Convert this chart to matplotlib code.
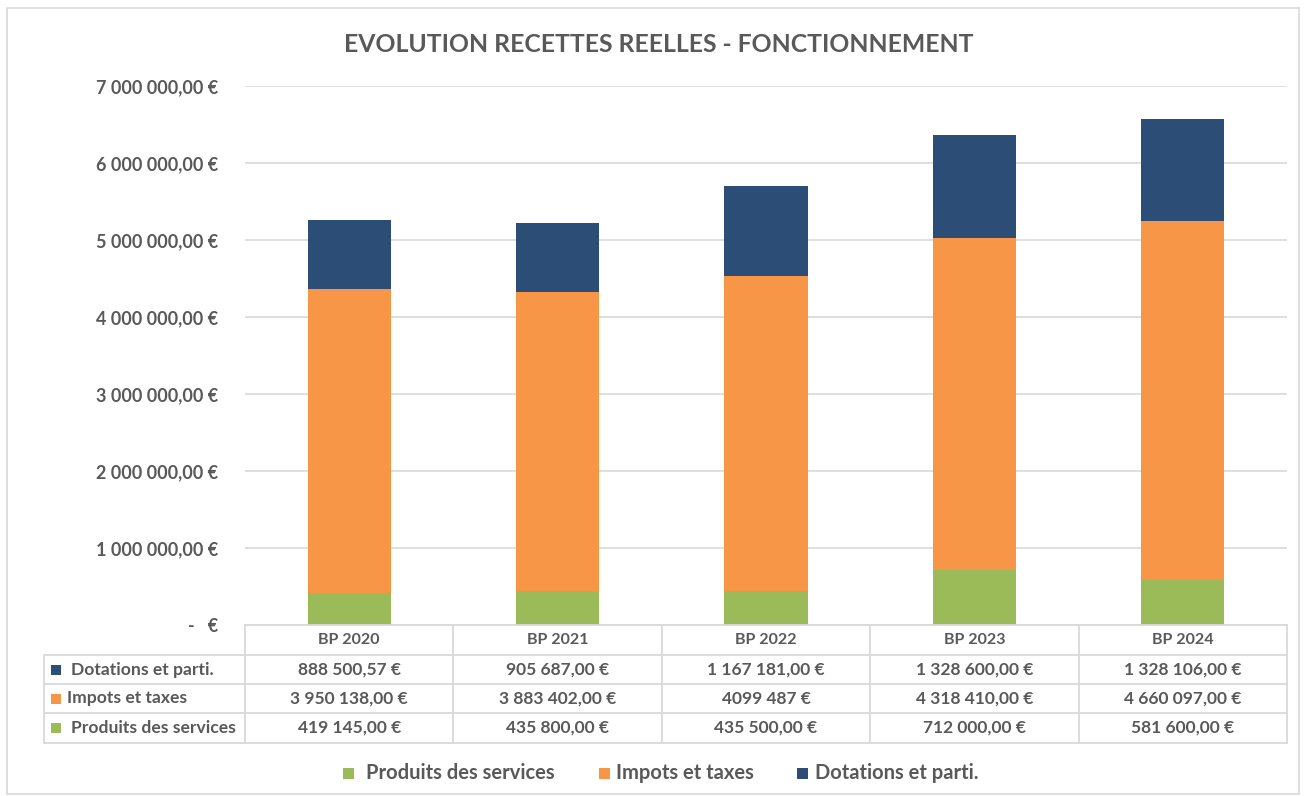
import matplotlib
matplotlib.use("Agg")
import matplotlib.pyplot as plt
from matplotlib.patches import Rectangle
from matplotlib.lines import Line2D

categories = ["BP 2020", "BP 2021", "BP 2022", "BP 2023", "BP 2024"]
produits = [419145.00, 435800.00, 435500.00, 712000.00, 581600.00]
impots = [3950138.00, 3883402.00, 4099487.00, 4318410.00, 4660097.00]
dotations = [888500.57, 905687.00, 1167181.00, 1328600.00, 1328106.00]
series_names = ["Produits des services", "Impots et taxes", "Dotations et parti."]
table_dotations = ["888 500,57 €", "905 687,00 €", "1 167 181,00 €", "1 328 600,00 €", "1 328 106,00 €"]
table_impots = ["3 950 138,00 €", "3 883 402,00 €", "4099 487 €", "4 318 410,00 €", "4 660 097,00 €"]
table_produits = ["419 145,00 €", "435 800,00 €", "435 500,00 €", "712 000,00 €", "581 600,00 €"]
y_ticks = [0, 1e6, 2e6, 3e6, 4e6, 5e6, 6e6, 7e6]
y_ticklabels = ["-   €", "1 000 000,00 €", "2 000 000,00 €", "3 000 000,00 €", "4 000 000,00 €",
                "5 000 000,00 €", "6 000 000,00 €", "7 000 000,00 €"]

C_GREEN = "#9BBB59"
C_ORANGE = "#F79646"
C_BLUE = "#2C4D75"
C_TEXT = "#595959"
C_GRID = "#D9D9D9"
FONT = "Lato"

W, H = 1306, 796
fig = plt.figure(figsize=(W / 100, H / 100), dpi=100)
fig.patch.set_facecolor("white")

def fx(px):
    return px / W

def fy(py):
    return 1 - py / H

# outer frame
fig.add_artist(Rectangle((fx(7), fy(794)), fx(1299) - fx(7), fy(8) - fy(794),
                         transform=fig.transFigure, fill=False, edgecolor=C_GRID, lw=1.2))

L, R, T, B = 245, 1287, 86, 625
ax = fig.add_axes([fx(L), fy(B), fx(R) - fx(L), fy(T) - fy(B)])
x = list(range(len(categories)))
bw = 0.40
ax.bar(x, produits, bw, color=C_GREEN, zorder=3)
bot2 = produits
ax.bar(x, impots, bw, bottom=bot2, color=C_ORANGE, zorder=3)
bot3 = [a + b for a, b in zip(produits, impots)]
ax.bar(x, dotations, bw, bottom=bot3, color=C_BLUE, zorder=3)
ax.set_xlim(-0.5, len(categories) - 0.5)
ax.set_ylim(0, 7e6)
ax.set_yticks(y_ticks)
ax.set_yticklabels(y_ticklabels)
ax.set_xticks([])
for s in ax.spines.values():
    s.set_visible(False)
ax.yaxis.grid(True, color=C_GRID, lw=1.2, zorder=0)
ax.tick_params(axis="y", length=0, pad=19)
for lab in ax.get_yticklabels():
    lab.set_fontfamily(FONT)
    lab.set_fontweight("bold")
    lab.set_fontsize(13)
    lab.set_color(C_TEXT)

# title
fig.text(fx(659), fy(44), "EVOLUTION RECETTES REELLES - FONCTIONNEMENT", ha="center", va="center",
         fontsize=17.8, fontweight="bold", color=C_TEXT, family=FONT)

# data table
rows_y = [625, 655, 684, 713, 743]
colb = [L + (R - L) * i / len(categories) for i in range(len(categories) + 1)]
TL = 44
def hline(y, x0, x1):
    fig.add_artist(Line2D([fx(x0), fx(x1)], [fy(y), fy(y)], transform=fig.transFigure, color=C_GRID, lw=1.3))
def vline(xp, y0, y1):
    fig.add_artist(Line2D([fx(xp), fx(xp)], [fy(y0), fy(y1)], transform=fig.transFigure, color=C_GRID, lw=1.3))

hline(rows_y[0], L, R)
for yy in rows_y[1:]:
    hline(yy, TL, R)
for xp in colb:
    vline(xp, rows_y[0], rows_y[-1])
vline(TL, rows_y[1], rows_y[-1])

tkw = dict(ha="center", va="center", fontsize=12.5, fontweight="bold", color=C_TEXT, family=FONT)
for i, c in enumerate(categories):
    cx = (colb[i] + colb[i + 1]) / 2
    fig.text(fx(cx), fy((rows_y[0] + rows_y[1]) / 2), c, **dict(tkw, fontsize=11.5))
table_rows = [(series_names[2], C_BLUE, table_dotations, 71),
              (series_names[1], C_ORANGE, table_impots, 67),
              (series_names[0], C_GREEN, table_produits, 71)]
for r, (name, col, vals, tx) in enumerate(table_rows):
    yc = (rows_y[r + 1] + rows_y[r + 2]) / 2
    fig.add_artist(Rectangle((fx(51), fy(yc + 5)), fx(10), 10 / H, transform=fig.transFigure,
                             color=col, lw=0))
    fig.text(fx(tx), fy(yc), name, ha="left", va="center", fontsize=12.6, fontweight="bold",
             color=C_TEXT, family=FONT)
    for i, v in enumerate(vals):
        cx = (colb[i] + colb[i + 1]) / 2
        fig.text(fx(cx), fy(yc), v, **tkw)

# legend
leg_items = [(series_names[0], C_GREEN, 343, 366), (series_names[1], C_ORANGE, 599, 616),
             (series_names[2], C_BLUE, 797, 815)]
for name, col, xs, xt in leg_items:
    fig.add_artist(Rectangle((fx(xs), fy(779)), fx(11), 11 / H, transform=fig.transFigure, color=col, lw=0))
    fig.text(fx(xt), fy(773), name, ha="left", va="center", fontsize=14.5, fontweight="bold",
             color=C_TEXT, family=FONT)

fig.savefig("out.png", dpi=100, facecolor="white")
